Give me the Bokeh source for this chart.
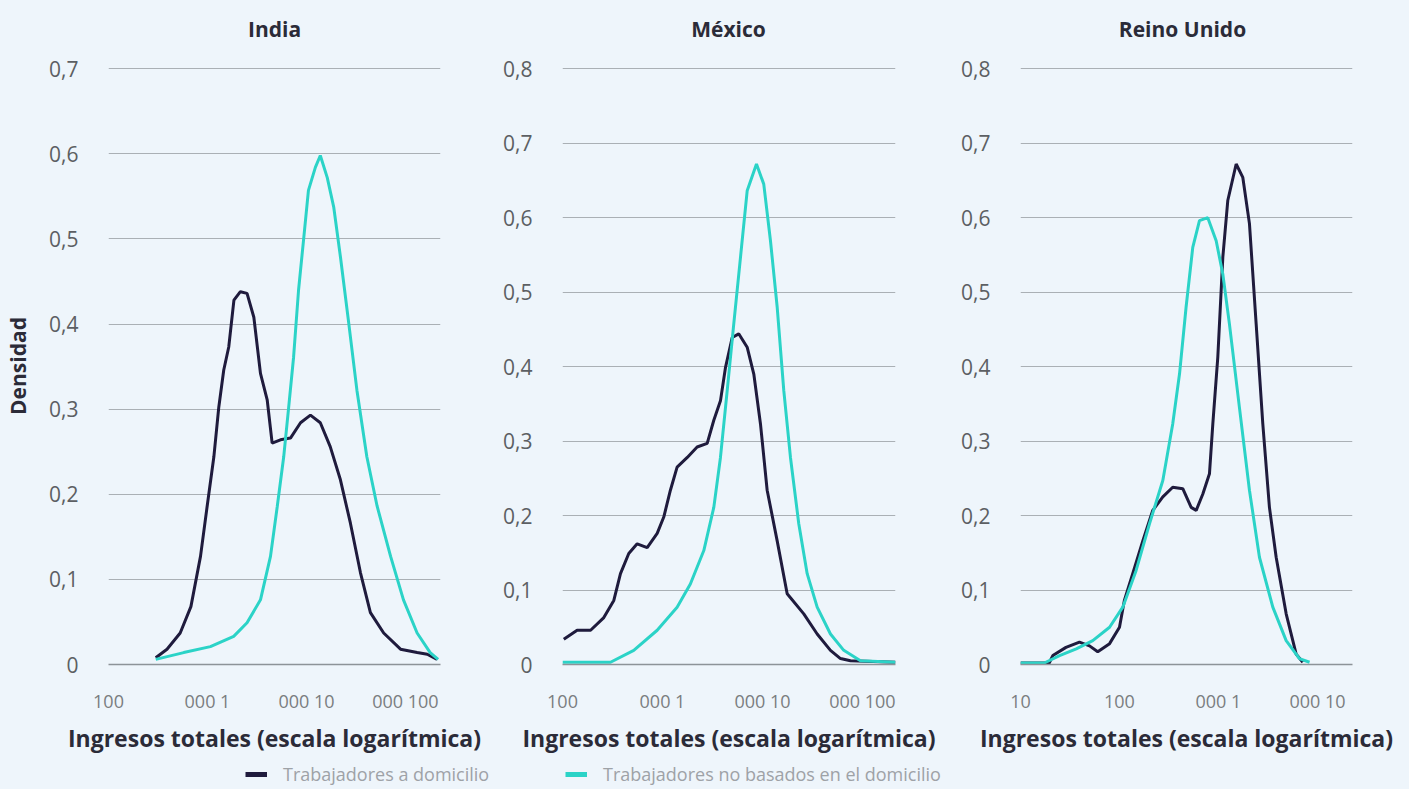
from bokeh.plotting import figure
from bokeh.layouts import row, column
from bokeh.models import Range1d, FixedTicker, Legend, LegendItem, Label
from bokeh.embed import file_html
from bokeh.resources import INLINE

BG = "#eef5fb"
DARK = "#1f1b3d"
CYAN = "#2bd3c7"
GRID = "#aab0b5"
INK = "#2b2b38"
FONT = "Open Sans"

panel_titles = ["India", "México", "Reino Unido"]
series_names = ["Trabajadores a domicilio", "Trabajadores no basados en el domicilio"]
x_title = "Ingresos totales (escala logarítmica)"
y_title = "Densidad"

# ---- India ----
india_home_x = [300, 390, 530, 680, 850, 990, 1160, 1300, 1460, 1640, 1850, 2150, 2510, 2940, 3430, 4010,
                4500, 5460, 6890, 8710, 10970, 13800, 17380, 22030, 27800, 35080, 44260, 60260, 89130,
                131200, 166000, 208900]
india_home_y = [0.008, 0.018, 0.037, 0.068, 0.127, 0.185, 0.244, 0.302, 0.346, 0.373, 0.428, 0.438, 0.436,
                0.408, 0.342, 0.311, 0.260, 0.264, 0.266, 0.284, 0.293, 0.284, 0.256, 0.217, 0.166, 0.108,
                0.061, 0.037, 0.018, 0.014, 0.012, 0.006]
india_non_x = [300, 575, 1070, 1840, 2510, 3430, 4330, 5060, 5890, 6610, 7410, 8320, 9330, 10470, 12300,
               13800, 16220, 18880, 22030, 26730, 32360, 40740, 51760, 70800, 95500, 131200, 177800, 213800]
india_non_y = [0.006, 0.014, 0.021, 0.033, 0.049, 0.076, 0.127, 0.185, 0.244, 0.302, 0.361, 0.44, 0.498,
               0.557, 0.584, 0.598, 0.572, 0.537, 0.479, 0.401, 0.322, 0.244, 0.186, 0.127, 0.076, 0.037,
               0.014, 0.006]

# ---- México ----
mexico_home_x = [103, 140, 191, 259, 326, 380, 460, 558, 703, 885, 1030, 1200, 1400, 1770, 2220, 2800, 3260,
                 3800, 4270, 4980, 5790, 7030, 8190, 9550, 11140, 14030, 17660, 25880, 35240, 47860, 60260,
                 75860, 213800]
mexico_home_y = [0.034, 0.046, 0.046, 0.063, 0.086, 0.122, 0.149, 0.162, 0.157, 0.176, 0.198, 0.234, 0.265,
                 0.278, 0.292, 0.297, 0.328, 0.354, 0.399, 0.439, 0.444, 0.426, 0.39, 0.323, 0.234, 0.166,
                 0.095, 0.068, 0.041, 0.019, 0.008, 0.005, 0.003]
mexico_non_x = [100, 302, 516, 885, 1400, 1900, 2590, 3260, 3800, 4440, 5160, 6030, 7030, 8710, 10300, 12020,
                14030, 16330, 19050, 23070, 27990, 35240, 47860, 65010, 95500, 213800]
mexico_non_y = [0.003, 0.003, 0.019, 0.046, 0.077, 0.108, 0.153, 0.211, 0.278, 0.368, 0.457, 0.547, 0.636,
                0.672, 0.645, 0.569, 0.48, 0.368, 0.278, 0.189, 0.122, 0.077, 0.041, 0.019, 0.005, 0.003]

# ---- Reino Unido ----
uk_home_x = [10, 19.5, 21.2, 28.8, 39.4, 49.8, 60.3, 79.4, 100, 112, 136, 172, 217, 274, 345, 436, 530, 596,
             695, 811, 877, 984, 1107, 1242, 1510, 1762, 2056, 2404, 2805, 3273, 3828, 4831, 6095, 7112]
uk_home_y = [0.002, 0.002, 0.012, 0.023, 0.03, 0.025, 0.017, 0.028, 0.05, 0.086, 0.122, 0.166, 0.207, 0.225,
             0.238, 0.236, 0.211, 0.207, 0.229, 0.256, 0.323, 0.412, 0.547, 0.623, 0.672, 0.654, 0.592,
             0.457, 0.323, 0.211, 0.144, 0.068, 0.014, 0.003]
uk_non_x = [10, 17.4, 24.8, 36.6, 53.7, 79.4, 108, 147, 201, 274, 345, 404, 471, 550, 643, 780, 948, 1107,
            1291, 1629, 2056, 2594, 3540, 4831, 6577, 8318]
uk_non_y = [0.002, 0.002, 0.012, 0.021, 0.032, 0.05, 0.077, 0.126, 0.189, 0.247, 0.323, 0.39, 0.48, 0.56,
            0.596, 0.6, 0.569, 0.524, 0.457, 0.345, 0.234, 0.144, 0.077, 0.032, 0.008, 0.003]

# ticks
x_ticks_a = [100, 1000, 10000, 100000]
x_labels_a = ["100", "000 1", "000 10", "000 100"]
x_ticks_b = [10, 100, 1000, 10000]
x_labels_b = ["10", "100", "000 1", "000 10"]
y_ticks_7 = [0, 0.1, 0.2, 0.3, 0.4, 0.5, 0.6, 0.7]
y_labels_7 = ["0", "0,1", "0,2", "0,3", "0,4", "0,5", "0,6", "0,7"]
y_ticks_8 = [0, 0.1, 0.2, 0.3, 0.4, 0.5, 0.6, 0.7, 0.8]
y_labels_8 = ["0", "0,1", "0,2", "0,3", "0,4", "0,5", "0,6", "0,7", "0,8"]

FRAME_H = 597
TOTAL_W = 1409


def panel(x0, x1, ymax, xt, xl, yt, yl, hx, hy, nx, ny, left, fw, right, ylabel=None):
    p = figure(x_axis_type="log", x_range=Range1d(x0, x1), y_range=Range1d(0, ymax * 1.002),
               frame_width=fw, frame_height=FRAME_H, min_border_left=left, min_border_right=right,
               min_border_top=13, min_border_bottom=96, output_backend="svg", toolbar_location=None,
               background_fill_color=BG, border_fill_color=BG, outline_line_color=None)

    p.xgrid.grid_line_color = None
    p.ygrid.grid_line_color = GRID
    p.ygrid.grid_line_width = 1
    p.ygrid.ticker = FixedTicker(ticks=yt)

    xa = p.xaxis[0]
    xa.ticker = FixedTicker(ticks=xt, minor_ticks=[])
    xa.major_label_overrides = {t: l for t, l in zip(xt, xl)}
    xa.major_tick_line_color = None
    xa.minor_tick_line_color = None
    xa.axis_line_color = "#8d9398"
    xa.axis_line_width = 1.5
    xa.major_label_text_font = FONT
    xa.major_label_text_font_size = "18px"
    xa.major_label_text_color = "#7a7d80"
    xa.major_label_standoff = 18
    xa.axis_label = x_title
    xa.axis_label_text_font = FONT
    xa.axis_label_text_font_style = "bold"
    xa.axis_label_text_font_size = "23px"
    xa.axis_label_text_color = INK
    xa.axis_label_standoff = 6

    ya = p.yaxis[0]
    ya.ticker = FixedTicker(ticks=yt, minor_ticks=[])
    ya.major_label_overrides = {t: l for t, l in zip(yt, yl)}
    ya.major_tick_line_color = None
    ya.minor_tick_line_color = None
    ya.axis_line_color = None
    ya.major_label_text_font = FONT
    ya.major_label_text_font_size = "21px"
    ya.major_label_text_color = "#5c5f63"
    ya.major_label_standoff = 24
    if ylabel:
        ya.axis_label = ylabel
        ya.axis_label_text_font = FONT
        ya.axis_label_text_font_style = "bold"
        ya.axis_label_text_font_size = "21px"
        ya.axis_label_text_color = INK
        ya.axis_label_standoff = 14

    p.line(hx, hy, line_color=DARK, line_width=3)
    p.line(nx, ny, line_color=CYAN, line_width=3)
    return p


f1 = panel(100, 226000, 0.7, x_ticks_a, x_labels_a, y_ticks_7, y_labels_7,
           india_home_x, india_home_y, india_non_x, india_non_y, 108, 332, 60, ylabel=y_title)
f2 = panel(100, 214000, 0.8, x_ticks_a, x_labels_a, y_ticks_8, y_labels_8,
           mexico_home_x, mexico_home_y, mexico_non_x, mexico_non_y, 62, 333, 63)
f3 = panel(10, 22600, 0.8, x_ticks_b, x_labels_b, y_ticks_8, y_labels_8,
           uk_home_x, uk_home_y, uk_non_x, uk_non_y, 58, 332, 61)


def strip(h):
    s = figure(width=TOTAL_W, height=h, x_range=Range1d(0, 1), y_range=Range1d(0, 1),
               x_axis_location=None, y_axis_location=None, min_border=0,
               output_backend="svg", toolbar_location=None,
               background_fill_color=BG, border_fill_color=BG, outline_line_color=None)
    s.grid.grid_line_color = None
    return s


# panel titles
tf = strip(54)
for name, cx in zip(panel_titles, [274, 728, 1182]):
    tf.add_layout(Label(x=cx, y=26, x_units="screen", y_units="screen", text=name,
                        text_align="center", text_baseline="middle", text_font=FONT,
                        text_font_style="bold", text_font_size="21px", text_color=INK))

# legend strip (legend-only renderers sit outside the visible range)
lf = strip(29)
for name, color, lx in zip(series_names, [DARK, CYAN], [245, 565]):
    dummy = lf.line([-5, -4], [-5, -4], line_color=color, line_width=5)
    lg = Legend(items=[LegendItem(label=name, renderers=[dummy])], location=(lx, 3),
                orientation="horizontal", padding=0, margin=0, border_line_color=None,
                background_fill_alpha=0, glyph_width=22, glyph_height=18, label_height=18,
                label_standoff=16, label_text_font=FONT, label_text_font_size="18px",
                label_text_color="#9ea2a7", label_text_baseline="middle")
    lf.add_layout(lg)

layout = column(tf, row(f1, f2, f3, spacing=0), lf, spacing=0,
                styles={"background-color": BG})
html = file_html(layout, INLINE, title="Densidad de ingresos")
open("out.html", "w").write(html)
